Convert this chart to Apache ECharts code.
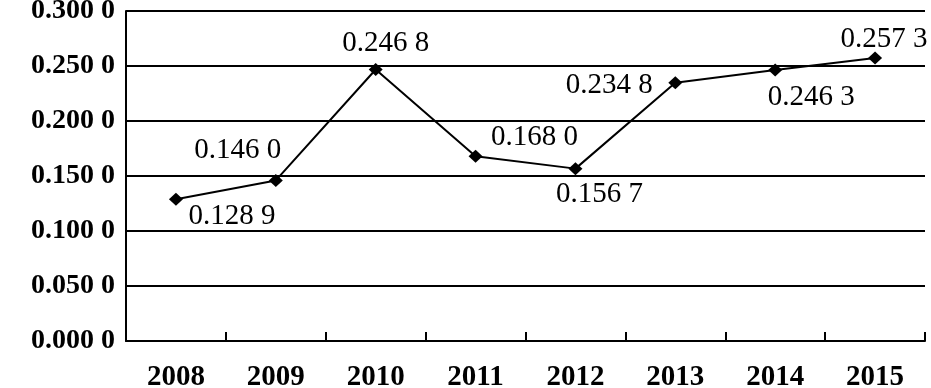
<!DOCTYPE html>
<html><head><meta charset="utf-8">
<script src="https://cdn.jsdelivr.net/npm/echarts@6/dist/echarts.min.js"></script>
<style>html,body{margin:0;padding:0;background:#fff}#c{width:931px;height:388px}</style>
</head><body><div id="c"></div>
<script>
var categories = ['2008','2009','2010','2011','2012','2013','2014','2015'];
var values = [0.1289, 0.1460, 0.2468, 0.1680, 0.1567, 0.2348, 0.2463, 0.2573];
var yTicks = [0, 0.05, 0.10, 0.15, 0.20, 0.25, 0.30];
var labelOffsets = [[56,17],[-38,-30],[10,-26],[59,-19],[24,26],[-66,3],[36,27],[9,-19]];

function fmt(v){ var s = v.toFixed(4); return s.slice(0,5) + ' ' + s.slice(5); }
var FONT = '"Liberation Serif","Times New Roman",serif';

var chart = echarts.init(document.getElementById('c'));
chart.setOption({
  animation: false,
  backgroundColor: '#fff',
  grid: {left: 126, right: 6, top: 11, bottom: 47, containLabel: false, outerBoundsMode: 'none'},
  xAxis: {
    type: 'category', data: categories, boundaryGap: true,
    axisLine: {lineStyle: {color: '#000', width: 2}},
    axisTick: {show: true, inside: true, length: 9, lineStyle: {color: '#000', width: 2}},
    axisLabel: {color: '#000', fontFamily: FONT, fontWeight: 'bold', fontSize: 29, margin: 22}
  },
  yAxis: {
    type: 'value', min: yTicks[0], max: yTicks[yTicks.length-1], interval: 0.05,
    axisLine: {show: true, lineStyle: {color: '#000', width: 2}},
    axisTick: {show: false},
    splitLine: {show: true, lineStyle: {color: '#000', width: 2}},
    axisLabel: {color: '#000', fontFamily: FONT, fontWeight: 'bold', fontSize: 28, margin: 11, formatter: fmt}
  },
  series: [{
    type: 'line',
    data: values.map(function(v, i){
      return {value: v, label: {offset: labelOffsets[i]}};
    }),
    symbol: 'diamond', symbolSize: [14, 13],
    itemStyle: {color: '#000'},
    lineStyle: {color: '#000', width: 2},
    label: {show: true, position: 'inside', align: 'center', verticalAlign: 'middle',
      color: '#000', fontFamily: FONT, fontSize: 29,
      formatter: function(p){ return fmt(p.value); }}
  }]
});
</script></body></html>
